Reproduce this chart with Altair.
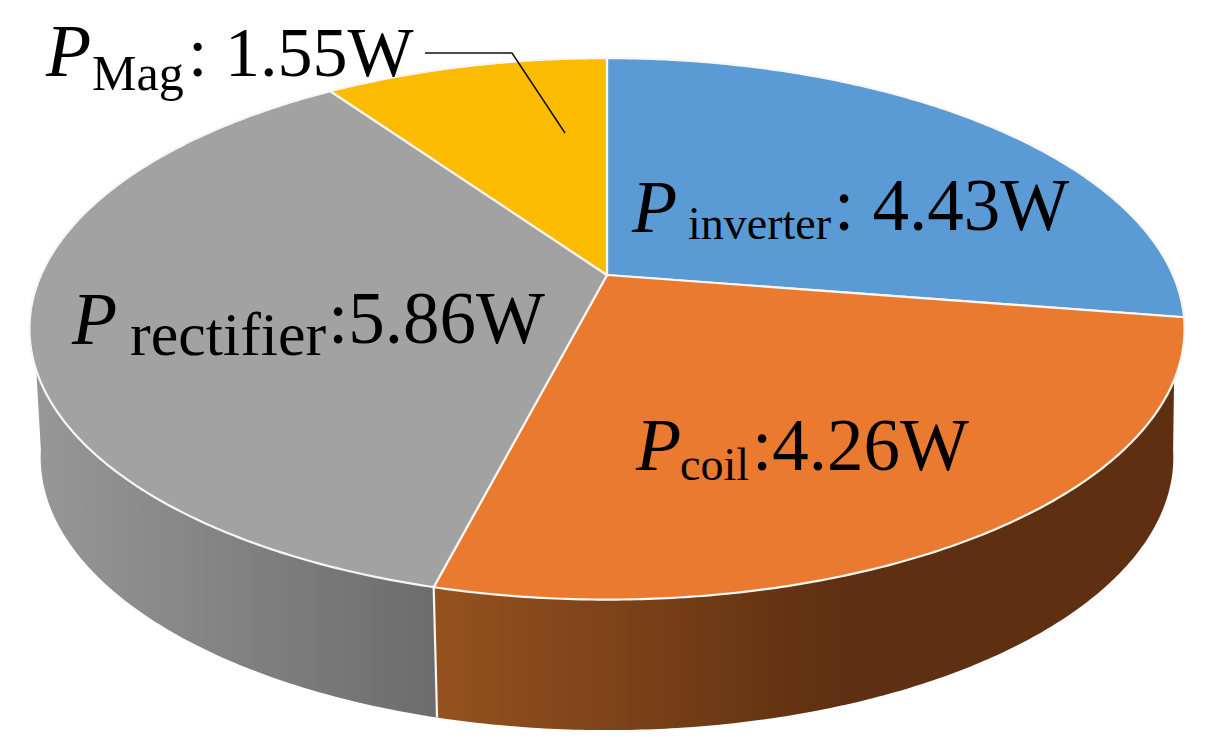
import numpy as np
import altair as alt

labels = ["inverter", "coil", "rectifier", "Mag"]
values = [4.43, 4.26, 5.86, 1.55]
top_colors = ["#5b9bd5", "#e97a2f", "#a2a2a2", "#fbbb00"]

OFF = 8
CX, CY = 607, 275
A, B, K = 566, 260, -0.199
A2, B2, D2 = 555, 262, 128


def top_pt(deg):
    t = np.radians(deg)
    u, v = np.sin(t), -np.cos(t)
    w = 1 + K * v
    return [float(CX + A * u / w - OFF), float(CY + B * v / w - OFF)]


def bottom_pt(deg):
    t = np.radians(deg)
    u, v = np.sin(t), -np.cos(t)
    w = 1 + K * v
    return [float(CX + A2 * u / w - OFF), float(CY + D2 + B2 * v / w - OFF)]


def feature(ring):
    return {"type": "Feature", "properties": {},
            "geometry": {"type": "Polygon", "coordinates": [ring + [ring[0]]]}}


def arange(a, b):
    return np.linspace(a, b, max(8, int(abs(b - a) * 2)))


edges = np.concatenate([[0], np.cumsum(values)]) / sum(values) * 360
proj = alt.Projection(type="identity", scale=1, translate=[0, 0])
SEAM = "#f8f6f2"


def shape(ring, fill, **kw):
    return alt.Chart(alt.Data(values=[feature(ring)])).mark_geoshape(
        fill=fill, stroke=SEAM, strokeWidth=2.2, **kw
    ).project(**proj.to_dict())


def grad(stops):
    return alt.Gradient(
        gradient="linear", x1=0, x2=1, y1=0, y2=0,
        stops=[alt.GradientStop(color=c, offset=o) for o, c in stops],
    )


split = float(edges[2])
wall_brown = [top_pt(a) for a in arange(112, split)] + [bottom_pt(a) for a in arange(split, 100)]
wall_grey = [top_pt(a) for a in arange(split, 250)] + [bottom_pt(a) for a in arange(260, split)]

layers = [
    alt.Chart(alt.Data(values=[feature(wall_brown)])).mark_geoshape(
        fill=grad([(0, "#95521f"), (0.55, "#5e2f11"), (1, "#5e2f11")]), stroke=None
    ).project(**proj.to_dict()),
    alt.Chart(alt.Data(values=[feature(wall_grey)])).mark_geoshape(
        fill=grad([(0, "#979797"), (1, "#6c6c6c")]), stroke=None
    ).project(**proj.to_dict()),
]

seam = [top_pt(split), bottom_pt(split)]
layers.append(
    alt.Chart(alt.Data(values=[{"x": p[0], "y": p[1], "i": i} for i, p in enumerate(seam)]))
    .mark_line(color=SEAM, strokeWidth=2.2)
    .encode(x=alt.X("x:Q", scale=None, axis=None), y=alt.Y("y:Q", scale=None, axis=None), order="i:O")
)

for i, c in enumerate(top_colors):
    ring = [[CX - OFF, CY - OFF]] + [top_pt(a) for a in arange(edges[i], edges[i + 1])]
    layers.append(shape(ring, c))

leader_x = [425, 512, 565]
leader_y = [53, 53, 133]
layers.append(
    alt.Chart(alt.Data(values=[{"x": x - OFF, "y": y - OFF, "i": i}
                               for i, (x, y) in enumerate(zip(leader_x, leader_y))]))
    .mark_line(color="#111111", strokeWidth=1.5)
    .encode(x=alt.X("x:Q", scale=None, axis=None), y=alt.Y("y:Q", scale=None, axis=None), order="i:O")
)

# text, x, baseline y, font size
P_text = [("P", 632, 232, 74), ("P", 636, 470, 74), ("P", 72, 344, 74), ("P", 46, 76, 74)]
sub_text = [("inverter", 688, 239, 46), ("coil", 680, 480, 46), ("rectifier", 130, 355, 62), ("Mag", 92, 90, 50)]
val_text = [(": 4.43W", 834, 230, 73), (":4.26W", 752, 470, 73), (":5.86W", 328, 343, 73), (": 1.55W", 188, 76, 70)]

text_font = "Liberation Serif"


def text_layer(rows, **kw):
    data = [{"t": t, "x": x - OFF, "y": y - OFF, "s": s} for t, x, y, s in rows]
    return alt.Chart(alt.Data(values=data)).mark_text(
        font=text_font, align="left", baseline="alphabetic", color="#000000", **kw
    ).encode(
        x=alt.X("x:Q", scale=None, axis=None),
        y=alt.Y("y:Q", scale=None, axis=None),
        size=alt.Size("s:Q", scale=None, legend=None),
        text="t:N",
    )


layers += [
    text_layer(P_text, fontStyle="italic"),
    text_layer(sub_text),
    text_layer(val_text),
]

chart = alt.layer(*layers).properties(
    width=1189, height=730, padding=0, background="#ffffff",
    autosize=alt.AutoSizeParams(type="none"),
).configure_view(stroke=None)

chart.save("out.html", embed_options={"renderer": "svg", "actions": False})
